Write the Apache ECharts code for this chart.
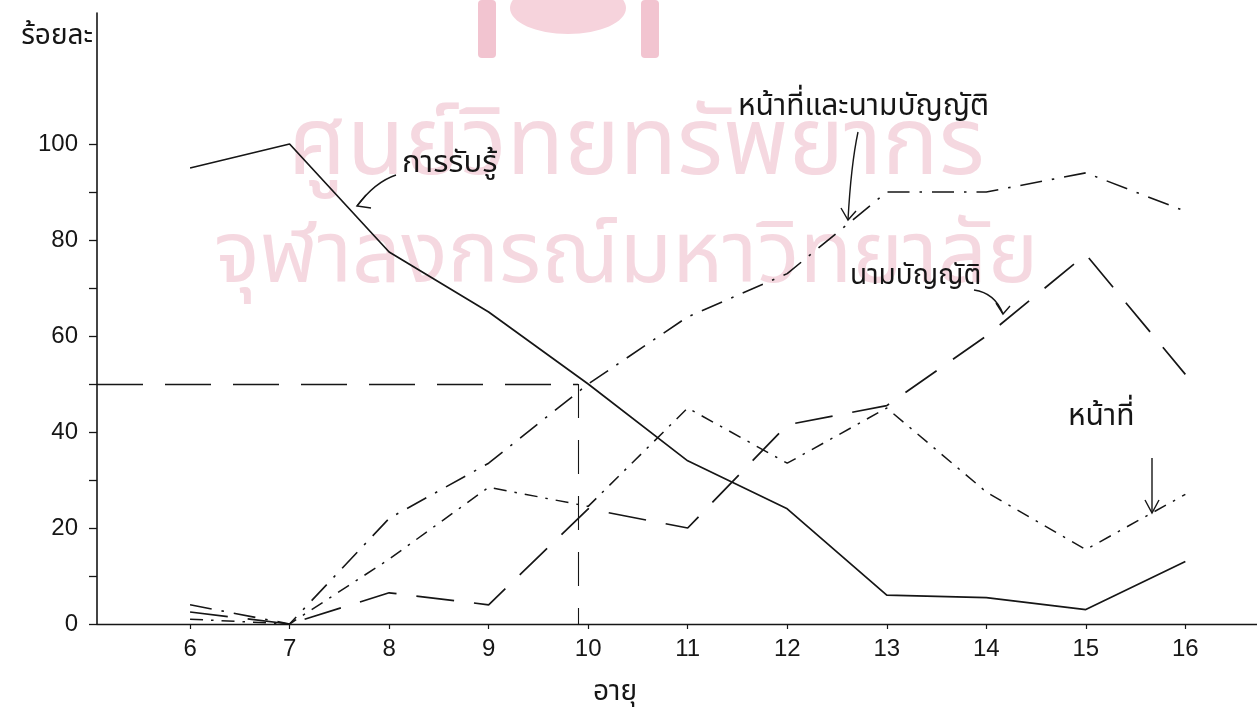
<!DOCTYPE html>
<html>
<head>
<meta charset="utf-8">
<script src="https://cdn.jsdelivr.net/npm/echarts@6/dist/echarts.min.js"></script>
<style>
html,body{margin:0;padding:0;background:#fff;}
#c{width:1257px;height:717px;}
</style>
</head>
<body>
<div id="c"></div>
<script>
// ---- data ----
const ages = [6, 7, 8, 9, 10, 11, 12, 13, 14, 15, 16];
const perception = [95, 100, 77.5, 65, 50, 34, 24, 6, 5.5, 3, 13];        // การรับรู้
const dutyAndName = [4, 0, 22, 33.5, 50, 64, 73, 90, 90, 94, 86];         // หน้าที่และนามบัญญัติ
const naming = [2.5, 0, 6.5, 4, 24, 20, 41.5, 45.5, 60, 77, 52];          // นามบัญญัติ
const duty = [1, 0, 13.5, 28.5, 24.5, 45, 33.5, 45, 27.5, 15.5, 27];      // หน้าที่
const yTickLabels = [0, 20, 40, 60, 80, 100];
const yTicks = [0, 10, 20, 30, 40, 50, 60, 70, 80, 90, 100];
const refAge = 9.9;   // vertical reference line
const refValue = 50;  // horizontal reference line

const seriesNames = ['การรับรู้', 'หน้าที่และนามบัญญัติ', 'นามบัญญัติ', 'หน้าที่'];

const pair = arr => ages.map((a, i) => [a, arr[i]]);
const ink = '#161616';
const thaiFont = '"Noto Sans Thai","Loma","Garuda","Norasi","Tlwg Typo","DejaVu Sans",sans-serif';
const numFont = '"Liberation Sans","DejaVu Sans",sans-serif';
const pink = '#f5d8e0';

const chart = echarts.init(document.getElementById('c'), null, {renderer: 'canvas'});

function arrowHead(tip, b1, b2) {
  return {type: 'polyline', z: 20, shape: {points: [b1, tip, b2]}, style: {stroke: ink, lineWidth: 1.4, fill: null}};
}

const option = {
  backgroundColor: '#fff',
  animation: false,
  grid: {left: 97, right: 0, top: 13, bottom: 93},
  xAxis: {
    type: 'value', min: 5.065, max: 16.72,
    axisLine: {show: true, lineStyle: {color: ink, width: 1.4}},
    axisTick: {show: true, customValues: ages, length: 5, inside: false, lineStyle: {color: ink, width: 1.2}},
    axisLabel: {customValues: ages, color: ink, fontSize: 24, fontFamily: numFont, margin: 13},
    splitLine: {show: false}
  },
  yAxis: {
    type: 'value', min: 0, max: 127.3,
    name: 'ร้อยละ', nameLocation: 'end', nameGap: -25,
    nameTextStyle: {align: 'right', verticalAlign: 'middle', color: ink, fontSize: 28, fontFamily: thaiFont, padding: [0, 4, 0, 0]},
    axisLine: {show: true, lineStyle: {color: ink, width: 1.6}},
    axisTick: {show: true, customValues: yTicks, length: 8, lineStyle: {color: ink, width: 1.3}},
    axisLabel: {customValues: yTickLabels, color: ink, fontSize: 24, fontFamily: numFont, margin: 19},
    splitLine: {show: false}
  },
  series: [
    {
      name: seriesNames[0], type: 'line', data: pair(perception), symbol: 'none',
      lineStyle: {color: ink, width: 1.7, type: 'solid'}, z: 5,
      markLine: {
        silent: true, symbol: 'none', label: {show: false},
        lineStyle: {color: ink, width: 1.3, type: [46, 22]},
        data: [
          [{coord: [5.065, refValue]}, {coord: [refAge, refValue]}],
          [{coord: [refAge, refValue], lineStyle: {type: [34, 22], width: 1.1}}, {coord: [refAge, 0]}]
        ]
      }
    },
    {
      name: seriesNames[1], type: 'line', data: pair(dutyAndName), symbol: 'none',
      lineStyle: {color: ink, width: 1.6, type: [22, 10, 2.5, 10]}, z: 5
    },
    {
      name: seriesNames[2], type: 'line', data: pair(naming), symbol: 'none',
      lineStyle: {color: ink, width: 1.7, type: [38, 20]}, z: 5
    },
    {
      name: seriesNames[3], type: 'line', data: pair(duty), symbol: 'none',
      lineStyle: {color: ink, width: 1.5, type: [13, 8, 2.5, 8]}, z: 5
    }
  ],
  graphic: {
    elements: [
      // faint watermark of the scanned page
      {type: 'text', z: 0, left: 288, top: 108, style: {text: 'ศูนย์วิทยทรัพยากร', fill: pink, font: '94px ' + thaiFont}},
      {type: 'text', z: 0, left: 214, top: 222, style: {text: 'จุฬาลงกรณ์มหาวิทยาลัย', fill: pink, font: '86px ' + thaiFont}},
      {type: 'rect', z: 0, shape: {x: 478, y: 0, width: 18, height: 58, r: 4}, style: {fill: '#f2c4d0'}},
      {type: 'rect', z: 0, shape: {x: 641, y: 0, width: 18, height: 58, r: 4}, style: {fill: '#f2c4d0'}},
      {type: 'ellipse', z: 0, shape: {cx: 568, cy: 8, rx: 58, ry: 26}, style: {fill: '#f6d3dc'}},

      // x axis name
      {type: 'text', z: 20, left: 593, top: 680, style: {text: 'อายุ', fill: ink, font: '28px ' + thaiFont}},

      // annotation: การรับรู้
      {type: 'text', z: 20, left: 402, top: 150, style: {text: 'การรับรู้', fill: ink, font: '31px ' + thaiFont}},
      {type: 'bezierCurve', z: 20, shape: {x1: 396, y1: 175, x2: 357, y2: 206, cpx1: 375, cpy1: 182}, style: {stroke: ink, lineWidth: 1.4, fill: null}},
      arrowHead([357, 206], [366, 195], [371, 208]),

      // annotation: หน้าที่และนามบัญญัติ
      {type: 'text', z: 20, left: 738, top: 94, style: {text: 'หน้าที่และนามบัญญัติ', fill: ink, font: '30px ' + thaiFont}},
      {type: 'bezierCurve', z: 20, shape: {x1: 858, y1: 132, x2: 848, y2: 220, cpx1: 851, cpy1: 165}, style: {stroke: ink, lineWidth: 1.4, fill: null}},
      arrowHead([848, 220], [841, 208], [856, 211]),

      // annotation: นามบัญญัติ
      {type: 'text', z: 20, left: 850, top: 264, style: {text: 'นามบัญญัติ', fill: ink, font: '28px ' + thaiFont}},
      {type: 'bezierCurve', z: 20, shape: {x1: 974, y1: 290, x2: 1003, y2: 314, cpx1: 995, cpy1: 293}, style: {stroke: ink, lineWidth: 1.4, fill: null}},
      arrowHead([1003, 314], [996, 303], [1010, 306]),

      // annotation: หน้าที่
      {type: 'text', z: 20, left: 1068, top: 404, style: {text: 'หน้าที่', fill: ink, font: '30px ' + thaiFont}},
      {type: 'line', z: 20, shape: {x1: 1152, y1: 458, x2: 1152, y2: 513}, style: {stroke: ink, lineWidth: 1.4}},
      arrowHead([1152, 513], [1145, 500], [1159, 500])
    ]
  }
};
chart.setOption(option);
</script>
</body>
</html>
